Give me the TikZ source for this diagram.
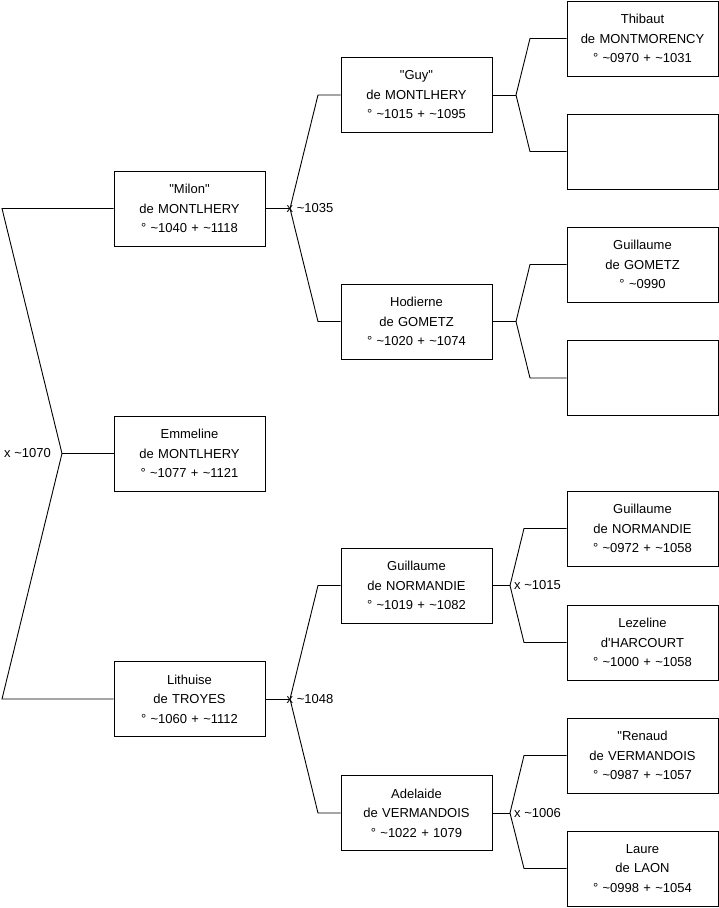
\documentclass[tikz,border=0pt]{standalone}
\usepackage{fontspec}
\setmainfont{Liberation Sans}[Ligatures=TeXOff]
\begin{document}
\begin{tikzpicture}[x=1pt,y=1pt,
  person/.style={draw=black,line width=0.9pt,minimum width=151pt,minimum height=75pt,
    text width=145pt,align=center,inner sep=0pt,
    font=\fontsize{13}{19.5}\selectfont},
  link/.style={draw=black,line width=0.9pt},
  marr/.style={inner sep=0pt,font=\fontsize{13}{15}\selectfont}]
\useasboundingbox (0,0) rectangle (719,-908);
% level 1
\node[person] (milon) at (189.5,-208.5) {"Milon"\\de MONTLHERY\\° \textasciitilde1040 + \textasciitilde1118};
\node[person] (emm) at (189.5,-453.5) {Emmeline\\de MONTLHERY\\° \textasciitilde1077 + \textasciitilde1121};
\node[person] (lith) at (189.5,-699) {Lithuise\\de TROYES\\° \textasciitilde1060 + \textasciitilde1112};
% level 2
\node[person] (guy) at (416.5,-95) {"Guy"\\de MONTLHERY\\° \textasciitilde1015 + \textasciitilde1095};
\node[person] (hod) at (416.5,-321.5) {Hodierne\\de GOMETZ\\° \textasciitilde1020 + \textasciitilde1074};
\node[person] (gn) at (416.5,-585.5) {Guillaume\\de NORMANDIE\\° \textasciitilde1019 + \textasciitilde1082};
\node[person] (ade) at (416.5,-813) {Adelaide\\de VERMANDOIS\\° \textasciitilde1022 + 1079};
% level 3
\node[person] (thib) at (642.5,-38.5) {Thibaut\\de MONTMORENCY\\° \textasciitilde0970 + \textasciitilde1031};
\node[person] (ea) at (642.5,-151.5) {};
\node[person] (gg) at (642.5,-264.5) {Guillaume\\de GOMETZ\\° \textasciitilde0990};
\node[person] (eb) at (642.5,-378) {};
\node[person] (gn2) at (642.5,-528.5) {Guillaume\\de NORMANDIE\\° \textasciitilde0972 + \textasciitilde1058};
\node[person] (lez) at (642.5,-642.5) {Lezeline\\d'HARCOURT\\° \textasciitilde1000 + \textasciitilde1058};
\node[person] (ren) at (642.5,-755.5) {"Renaud\\de VERMANDOIS\\° \textasciitilde0987 + \textasciitilde1057};
\node[person] (laure) at (642.5,-868.5) {Laure\\de LAON\\° \textasciitilde0998 + \textasciitilde1054};
% junction coordinates
\coordinate (j0) at (62,-453.5);
\coordinate (a0) at (2,-208.5);
\coordinate (b0) at (2,-699);
\coordinate (j1) at (290,-208.5);
\coordinate (a1) at (318,-95);
\coordinate (b1) at (318,-321.5);
\coordinate (j2) at (290,-699);
\coordinate (a2) at (318,-585.5);
\coordinate (b2) at (318,-813);
\coordinate (j3) at (516,-95);
\coordinate (a3) at (530,-38.5);
\coordinate (b3) at (530,-151.5);
\coordinate (j4) at (516,-321.5);
\coordinate (a4) at (530,-264.5);
\coordinate (b4) at (530,-378);
\coordinate (j5) at (510,-585.5);
\coordinate (a5) at (524,-528.5);
\coordinate (b5) at (524,-642.5);
\coordinate (j6) at (510,-813);
\coordinate (a6) at (524,-755.5);
\coordinate (b6) at (524,-868.5);
% connectors
\draw[link] (milon.west) -- (a0) -- (j0) -- (b0) -- (lith.west);
\draw[link] (j0) -- (emm.west);
\draw[link] (milon.east) -- (j1);
\draw[link] (guy.west) -- (a1) -- (j1) -- (b1) -- (hod.west);
\draw[link] (lith.east) -- (j2);
\draw[link] (gn.west) -- (a2) -- (j2) -- (b2) -- (ade.west);
\draw[link] (guy.east) -- (j3);
\draw[link] (thib.west) -- (a3) -- (j3) -- (b3) -- (ea.west);
\draw[link] (hod.east) -- (j4);
\draw[link] (gg.west) -- (a4) -- (j4) -- (b4) -- (eb.west);
\draw[link] (gn.east) -- (j5);
\draw[link] (gn2.west) -- (a5) -- (j5) -- (b5) -- (lez.west);
\draw[link] (ade.east) -- (j6);
\draw[link] (ren.west) -- (a6) -- (j6) -- (b6) -- (laure.west);
% marriage labels
\node[marr,anchor=east] (m0) at (51,-453.5) {x \textasciitilde1070};
\node[marr,anchor=west] (m1) at (286.5,-208.5) {x \textasciitilde1035};
\node[marr,anchor=west] (m2) at (286.5,-699) {x \textasciitilde1048};
\node[marr,anchor=west] (m5) at (514,-585.5) {x \textasciitilde1015};
\node[marr,anchor=west] (m6) at (514,-813) {x \textasciitilde1006};
\end{tikzpicture}
\end{document}
